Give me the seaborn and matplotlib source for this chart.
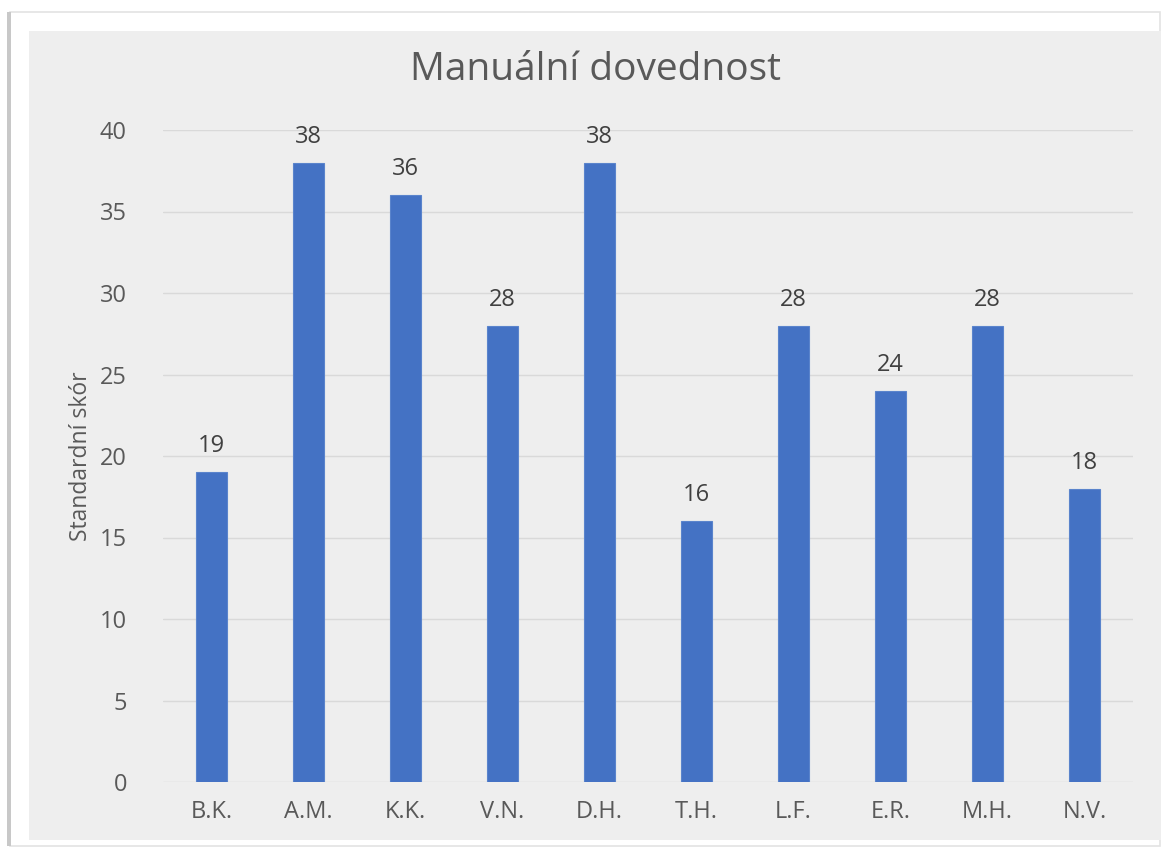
import matplotlib
matplotlib.use("Agg")
import matplotlib.pyplot as plt
import seaborn as sns
import pandas as pd
from matplotlib.patches import Rectangle

# data
names = ["B.K.", "A.M.", "K.K.", "V.N.", "D.H.", "T.H.", "L.F.", "E.R.", "M.H.", "N.V."]
scores = [19, 38, 36, 28, 38, 16, 28, 24, 28, 18]
yticks = [0, 5, 10, 15, 20, 25, 30, 35, 40]

df = pd.DataFrame({"name": names, "score": scores})

sns.set_theme(style="white")
plt.rcParams["font.family"] = ["Open Sans", "DejaVu Sans"]

W, H = 1166, 852
fig = plt.figure(figsize=(W / 100, H / 100), dpi=100, facecolor="white")

# outer white frame with a soft left shadow, then grey chart area
fig.patches.append(Rectangle((10 / W, 1 - 846 / H), 1150 / W, 834 / H,
                             transform=fig.transFigure, facecolor="white",
                             edgecolor="#E3E3E3", linewidth=1.2, zorder=-10))
fig.patches.append(Rectangle((7 / W, 1 - 846 / H), 4 / W, 834 / H,
                             transform=fig.transFigure, facecolor="#C8C8C8",
                             edgecolor="none", zorder=-9))
fig.patches.append(Rectangle((29 / W, 1 - 840 / H), 1132 / W, 809 / H,
                             transform=fig.transFigure, facecolor="#EEEEEE",
                             edgecolor="none", zorder=-8))

ax = fig.add_axes([163 / W, 1 - 782 / H, 970 / W, 652 / H])
ax.set_facecolor("#EEEEEE")

sns.barplot(data=df, x="name", y="score", color="#4472C4", width=0.32,
            saturation=1, edgecolor="#5A84CC", linewidth=0.8, ax=ax, zorder=3)

for i, v in enumerate(scores):
    ax.annotate(str(v), (i, v), xytext=(0, 10), textcoords="offset points",
                ha="center", va="bottom", fontsize=17, color="#404040")

ax.set_ylim(0, 40)
ax.set_xlim(-0.5, len(names) - 0.5)
ax.set_yticks(yticks)
ax.grid(axis="y", color="#D9D9D9", linewidth=1, zorder=0)
ax.set_axisbelow(True)
for s in ax.spines.values():
    s.set_visible(False)
ax.tick_params(axis="both", length=0, labelsize=17, labelcolor="#595959")
ax.tick_params(axis="x", pad=13)
ax.tick_params(axis="y", pad=26)

ax.set_xlabel("")
ax.set_ylabel("Standardní skór", fontsize=16.5, color="#595959", labelpad=5)
fig.text(595 / W, 1 - 70 / H, "Manuální dovednost", ha="center", va="center",
         fontsize=28, color="#595959")

fig.savefig("out.png", dpi=100, facecolor="white")
